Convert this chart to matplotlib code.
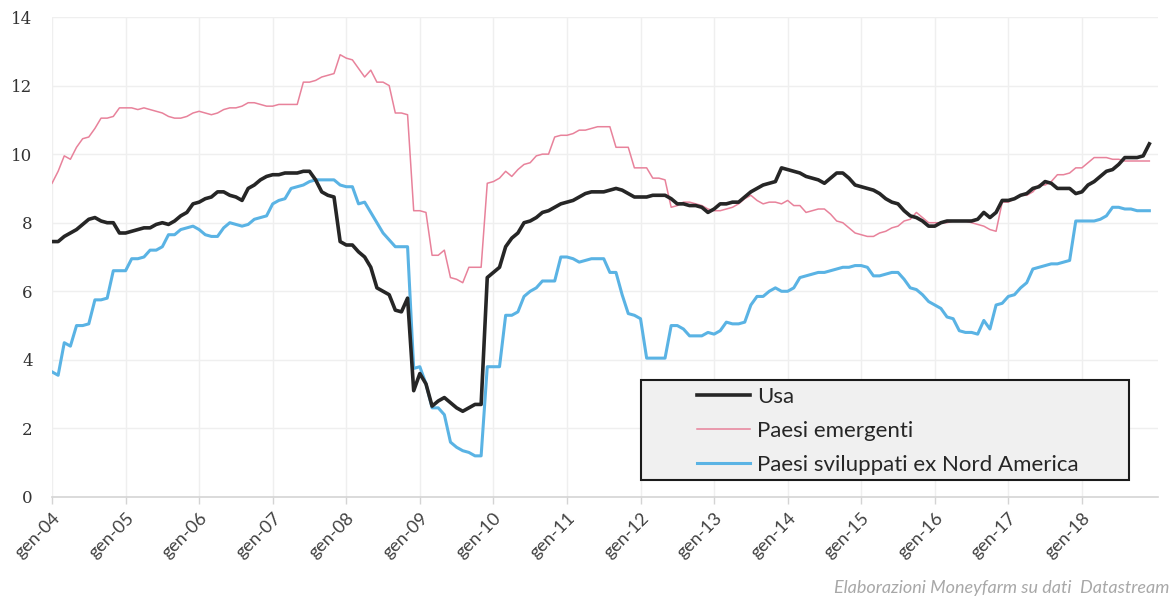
import matplotlib
matplotlib.use("Agg")
import matplotlib.pyplot as plt
from matplotlib.patches import Rectangle
import numpy as np

plt.rcParams['font.family'] = ['Lato', 'DejaVu Sans']

# Monthly values, Jan 2004 - Dec 2018
usa = [
    7.45, 7.45, 7.6, 7.7, 7.8, 7.95, 8.1, 8.15, 8.05, 8.0, 8.0, 7.7,
    7.7, 7.75, 7.8, 7.85, 7.85, 7.95, 8.0, 7.95, 8.05, 8.2, 8.3, 8.55,
    8.6, 8.7, 8.75, 8.9, 8.9, 8.8, 8.75, 8.65, 9.0, 9.1, 9.25, 9.35,
    9.4, 9.4, 9.45, 9.45, 9.45, 9.5, 9.5, 9.25, 8.9, 8.8, 8.75, 7.45,
    7.35, 7.35, 7.15, 7.0, 6.7, 6.1, 6.0, 5.9, 5.45, 5.4, 5.8, 3.1,
    3.6, 3.3, 2.65, 2.8, 2.9, 2.75, 2.6, 2.5, 2.6, 2.7, 2.7, 6.4,
    6.55, 6.7, 7.3, 7.55, 7.7, 8.0, 8.05, 8.15, 8.3, 8.35, 8.45, 8.55,
    8.6, 8.65, 8.75, 8.85, 8.9, 8.9, 8.9, 8.95, 9.0, 8.95, 8.85, 8.75,
    8.75, 8.75, 8.8, 8.8, 8.8, 8.7, 8.55, 8.55, 8.5, 8.5, 8.45, 8.3,
    8.4, 8.55, 8.55, 8.6, 8.6, 8.75, 8.9, 9.0, 9.1, 9.15, 9.2, 9.6,
    9.55, 9.5, 9.45, 9.35, 9.3, 9.25, 9.15, 9.3, 9.45, 9.45, 9.3, 9.1,
    9.05, 9.0, 8.95, 8.85, 8.7, 8.6, 8.55, 8.35, 8.2, 8.15, 8.05, 7.9,
    7.9, 8.0, 8.05, 8.05, 8.05, 8.05, 8.05, 8.1, 8.3, 8.15, 8.3, 8.65,
    8.65, 8.7, 8.8, 8.85, 9.0, 9.05, 9.2, 9.15, 9.0, 9.0, 9.0, 8.85,
    8.9, 9.1, 9.2, 9.35, 9.5, 9.55, 9.7, 9.9, 9.9, 9.9, 9.95, 10.3,
]

emergenti = [
    9.15, 9.5, 9.95, 9.85, 10.2, 10.45, 10.5, 10.75, 11.05, 11.05, 11.1, 11.35,
    11.35, 11.35, 11.3, 11.35, 11.3, 11.25, 11.2, 11.1, 11.05, 11.05, 11.1, 11.2,
    11.25, 11.2, 11.15, 11.2, 11.3, 11.35, 11.35, 11.4, 11.5, 11.5, 11.45, 11.4,
    11.4, 11.45, 11.45, 11.45, 11.45, 12.1, 12.1, 12.15, 12.25, 12.3, 12.35, 12.9,
    12.8, 12.75, 12.5, 12.25, 12.45, 12.1, 12.1, 12.0, 11.2, 11.2, 11.15, 8.35,
    8.35, 8.3, 7.05, 7.05, 7.2, 6.4, 6.35, 6.25, 6.7, 6.7, 6.7, 9.15,
    9.2, 9.3, 9.5, 9.35, 9.55, 9.7, 9.75, 9.95, 10.0, 10.0, 10.5, 10.55,
    10.55, 10.6, 10.7, 10.7, 10.75, 10.8, 10.8, 10.8, 10.2, 10.2, 10.2, 9.6,
    9.6, 9.6, 9.3, 9.3, 9.25, 8.45, 8.5, 8.6, 8.6, 8.55, 8.5, 8.4,
    8.35, 8.35, 8.4, 8.45, 8.55, 8.7, 8.8, 8.65, 8.55, 8.6, 8.6, 8.55,
    8.65, 8.5, 8.5, 8.3, 8.35, 8.4, 8.4, 8.25, 8.05, 8.0, 7.85, 7.7,
    7.65, 7.6, 7.6, 7.7, 7.75, 7.85, 7.9, 8.05, 8.1, 8.3, 8.15, 8.0,
    8.0, 8.0, 8.0, 8.05, 8.05, 8.05, 8.0, 7.95, 7.9, 7.8, 7.75, 8.6,
    8.6, 8.7, 8.8, 8.8, 8.9, 9.1, 9.1, 9.2, 9.4, 9.4, 9.45, 9.6,
    9.6, 9.75, 9.9, 9.9, 9.9, 9.85, 9.85, 9.8, 9.8, 9.8, 9.8, 9.8,
]

sviluppati = [
    3.65, 3.55, 4.5, 4.4, 5.0, 5.0, 5.05, 5.75, 5.75, 5.8, 6.6, 6.6,
    6.6, 6.95, 6.95, 7.0, 7.2, 7.2, 7.3, 7.65, 7.65, 7.8, 7.85, 7.9,
    7.8, 7.65, 7.6, 7.6, 7.85, 8.0, 7.95, 7.9, 7.95, 8.1, 8.15, 8.2,
    8.55, 8.65, 8.7, 9.0, 9.05, 9.1, 9.2, 9.25, 9.25, 9.25, 9.25, 9.1,
    9.05, 9.05, 8.55, 8.6, 8.3, 8.0, 7.7, 7.5, 7.3, 7.3, 7.3, 3.75,
    3.8, 3.3, 2.6, 2.6, 2.4, 1.6, 1.45, 1.35, 1.3, 1.2, 1.2, 3.8,
    3.8, 3.8, 5.3, 5.3, 5.4, 5.85, 6.0, 6.1, 6.3, 6.3, 6.3, 7.0,
    7.0, 6.95, 6.85, 6.9, 6.95, 6.95, 6.95, 6.55, 6.55, 5.9, 5.35, 5.3,
    5.2, 4.05, 4.05, 4.05, 4.05, 5.0, 5.0, 4.9, 4.7, 4.7, 4.7, 4.8,
    4.75, 4.85, 5.1, 5.05, 5.05, 5.1, 5.6, 5.85, 5.85, 6.0, 6.1, 6.0,
    6.0, 6.1, 6.4, 6.45, 6.5, 6.55, 6.55, 6.6, 6.65, 6.7, 6.7, 6.75,
    6.75, 6.7, 6.45, 6.45, 6.5, 6.55, 6.55, 6.35, 6.1, 6.05, 5.9, 5.7,
    5.6, 5.5, 5.25, 5.2, 4.85, 4.8, 4.8, 4.75, 5.15, 4.9, 5.6, 5.65,
    5.85, 5.9, 6.1, 6.25, 6.65, 6.7, 6.75, 6.8, 6.8, 6.85, 6.9, 8.05,
    8.05, 8.05, 8.05, 8.1, 8.2, 8.45, 8.45, 8.4, 8.4, 8.35, 8.35, 8.35,
]

years = list(range(2004, 2019))
tick_labels = [f"gen-{y % 100:02d}" for y in years]
series_names = ["Usa", "Paesi emergenti", "Paesi sviluppati ex Nord America"]
source_note = "Elaborazioni Moneyfarm su dati  Datastream"

months = np.arange(len(usa))

fig = plt.figure(figsize=(11.74, 6.03), dpi=100)
ax = fig.add_axes([0.0443, 0.1758, 0.942, 0.796])

# light grid
ax.set_axisbelow(True)
for yv in range(2, 15, 2):
    ax.axhline(yv, color="#efefef", lw=1.0, zorder=0)
for i in range(len(years)):
    ax.axvline(i * 12, color="#efefef", lw=1.0, zorder=0)

l_usa, = ax.plot(months, usa, color="#262626", lw=2.6, solid_joinstyle="round", zorder=4)
l_em, = ax.plot(months, emergenti, color="#e8829b", lw=1.1, zorder=3)
l_sv, = ax.plot(months, sviluppati, color="#5ab3e4", lw=2.2, zorder=2)

ax.set_xlim(0, 180.4)
ax.set_ylim(0, 14)
ax.set_yticks(range(0, 15, 2))
ax.set_xticks([i * 12 for i in range(len(years))])
ax.set_xticklabels(tick_labels, rotation=45, ha="right", rotation_mode="anchor")

for s in ["top", "right", "left"]:
    ax.spines[s].set_visible(False)
ax.spines["bottom"].set_color("#d4d4d4")
ax.spines["bottom"].set_linewidth(1.2)
ax.tick_params(axis="x", colors="#d4d4d4", length=5, width=1.0, labelcolor="#404040",
               labelsize=13, pad=4)
ax.tick_params(axis="y", length=0, labelcolor="#333333", labelsize=12, pad=14)
for t in ax.get_yticklabels():
    t.set_family("DejaVu Serif")

# legend box
box = Rectangle((0.5325, 0.0354), 0.4413, 0.2086, transform=ax.transAxes,
                facecolor="#f0f0f0", edgecolor="#1a1a1a", lw=1.5, zorder=5)
ax.add_patch(box)
leg = ax.legend([l_usa, l_em, l_sv], series_names, loc="upper left",
                bbox_to_anchor=(0.5832, 0.229), frameon=False, fontsize=16,
                handlelength=2.4, handletextpad=0.3, labelspacing=0.62,
                borderaxespad=0, borderpad=0)
leg.set_zorder(6)
for t in leg.get_texts():
    t.set_color("#262626")

fig.text(0.996, 0.012, source_note, ha="right", va="bottom", fontsize=13,
         style="italic", color="#a8a8a8")

fig.savefig("out.png", dpi=100)
